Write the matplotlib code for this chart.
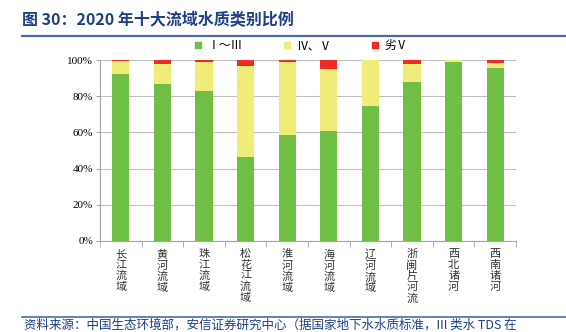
import numpy as np
import matplotlib.pyplot as plt
from matplotlib.ticker import PercentFormatter, FixedLocator
from matplotlib.lines import Line2D

plt.rcParams['font.family'] = ['Liberation Serif', 'Noto Sans CJK SC', 'DejaVu Sans']

# Data (percent)
basins = ['长江流域', '黄河流域', '珠江流域', '松花江流域', '淮河流域',
          '海河流域', '辽河流域', '浙闽片河流', '西北诸河', '西南诸河']
grade_1_3 = [92.1, 86.6, 82.8, 46.4, 58.7, 60.7, 74.7, 87.7, 98.7, 95.6]
grade_4_5 = [7.5, 11.4, 16.3, 50.1, 40.4, 34.5, 25.3, 10.1, 1.3, 2.9]
grade_bad = [0.4, 2.0, 0.9, 3.5, 0.9, 4.8, 0.0, 2.2, 0.0, 1.5]
series_names = ['Ⅰ～Ⅲ', 'Ⅳ、Ⅴ', '劣Ⅴ']

green = '#70BE44'
yellow = '#EFEC78'
red = '#EE2B25'
navy = '#1F3F86'

fig = plt.figure(figsize=(5.66, 3.32), dpi=100)
ax = fig.add_axes([100/566, 1-241/332, 416/566, 181/332])

x = np.arange(len(basins))
w = 0.41
b1 = np.array(grade_1_3)
b2 = b1 + np.array(grade_4_5)
ax.bar(x, grade_1_3, width=w, color=green, zorder=3)
ax.bar(x, grade_4_5, width=w, bottom=b1, color=yellow, zorder=3)
ax.bar(x, grade_bad, width=w, bottom=b2, color=red, zorder=3)

ax.set_xlim(-0.5, len(basins) - 0.5)
ax.set_ylim(0, 100)
ax.set_yticks(np.arange(0, 101, 20))
ax.yaxis.set_major_formatter(PercentFormatter(decimals=0))
ax.grid(axis='y', color='#BFBFBF', linewidth=0.8, zorder=0)

for s in ['top', 'right']:
    ax.spines[s].set_visible(False)
ax.spines['left'].set_color('#A6A6A6')
ax.spines['bottom'].set_color('#A6A6A6')

ax.tick_params(axis='y', labelsize=8, color='#A6A6A6', length=3, pad=2)
ax.set_xticks(x)
ax.set_xticklabels(['\n'.join(b) for b in basins], family=['Noto Sans CJK SC'],
                   fontsize=8, linespacing=1.08, color='#333333', va='top')
ax.tick_params(axis='x', length=0, pad=6)
ax.xaxis.set_minor_locator(FixedLocator(np.arange(-0.5, len(basins), 1)))
ax.tick_params(axis='x', which='minor', length=4, color='#A6A6A6')

# legend
handles = [Line2D([], [], marker='s', linestyle='', color=c, markersize=5)
           for c in [green, yellow, red]]
fig.legend(handles, series_names, loc='center', bbox_to_anchor=(300/566, 1-46/332),
           ncol=3, frameon=False, fontsize=8.5, handletextpad=0.3, columnspacing=3.2,
           handlelength=1.0)

# title and source
fig.text(22/566, 1-20/332, '图 30：2020 年十大流域水质类别比例', color=navy,
         fontsize=11.5, fontweight='bold', va='center',
         family=['Noto Sans CJK SC', 'DejaVu Sans'])
fig.add_artist(Line2D([22/566, 1.0], [1-36/332, 1-36/332], color='#4A6AAE', linewidth=1.6))
fig.add_artist(Line2D([22/566, 1.0], [1-317/332, 1-317/332], color='#4A6AAE', linewidth=1.2))
fig.text(24/566, 1-325/332, '资料来源：中国生态环境部，安信证券研究中心（据国家地下水水质标准，III 类水 TDS 在',
         color=navy, fontsize=9, style='italic', va='center',
         family=['Noto Sans CJK SC', 'DejaVu Sans'])

fig.savefig('out.png', dpi=100)
